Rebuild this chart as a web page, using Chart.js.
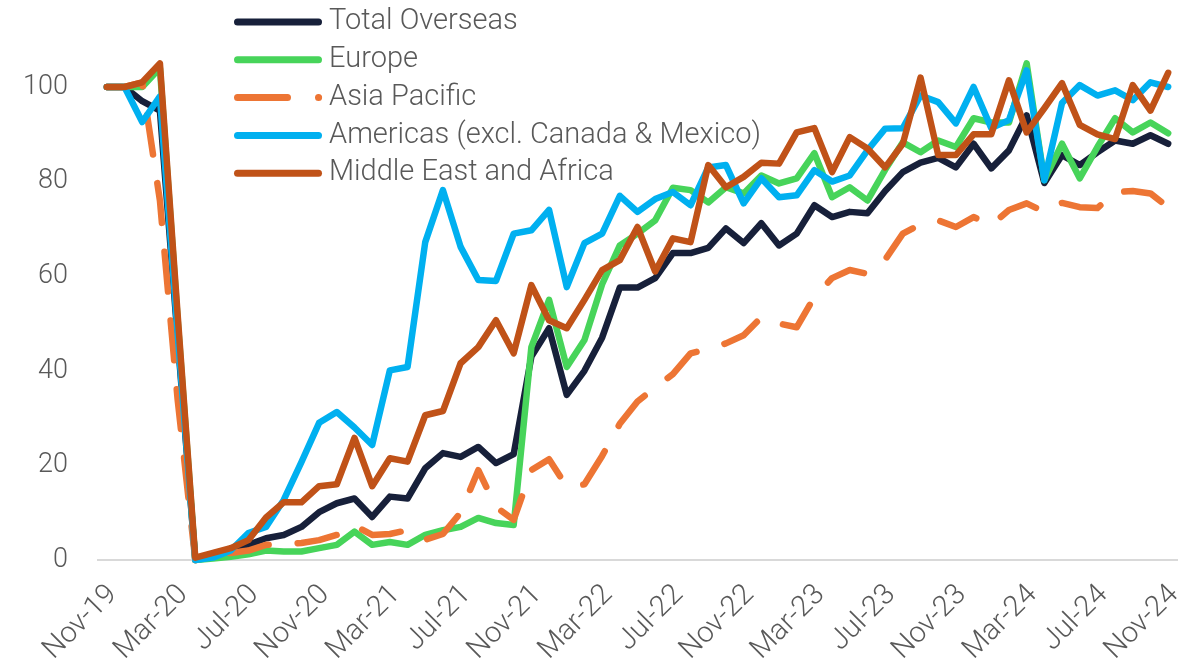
<!DOCTYPE html>
<html>
  <head>
    <title>Overseas recovery index</title>
    <script src="https://cdn.jsdelivr.net/npm/chart.js@4.4.1/dist/chart.umd.min.js"></script>
    <style>
      body { margin: 0; background: #fff; }
    </style>
  </head>
  <body>
    <canvas id="myChart" width="1196" height="664"></canvas>
    <script>
      // Months, Nov-19 .. Nov-24
      var months = [
        "Nov-19", "Dec-19", "Jan-20", "Feb-20", "Mar-20", "Apr-20", "May-20", "Jun-20", "Jul-20", "Aug-20",
        "Sep-20", "Oct-20", "Nov-20", "Dec-20", "Jan-21", "Feb-21", "Mar-21", "Apr-21", "May-21", "Jun-21",
        "Jul-21", "Aug-21", "Sep-21", "Oct-21", "Nov-21", "Dec-21", "Jan-22", "Feb-22", "Mar-22", "Apr-22",
        "May-22", "Jun-22", "Jul-22", "Aug-22", "Sep-22", "Oct-22", "Nov-22", "Dec-22", "Jan-23", "Feb-23",
        "Mar-23", "Apr-23", "May-23", "Jun-23", "Jul-23", "Aug-23", "Sep-23", "Oct-23", "Nov-23", "Dec-23",
        "Jan-24", "Feb-24", "Mar-24", "Apr-24", "May-24", "Jun-24", "Jul-24", "Aug-24", "Sep-24", "Oct-24",
        "Nov-24"
      ];

      var totalOverseas = [
        100, 100, 97, 95, 47, 0, 0.7, 1.7, 3.2, 4.6,
        5.3, 7, 10.1, 12, 13, 9.1, 13.4, 13, 19.4, 22.6,
        21.8, 23.9, 20.5, 22.4, 43, 49, 34.9, 40, 47, 57.6,
        57.6, 59.6, 64.9, 64.9, 66, 70.1, 67, 71.2, 66.5, 69,
        75, 72.5, 73.6, 73.3, 78, 82, 84, 85, 83, 88,
        82.8, 86.6, 94, 79.7, 85.6, 83.5, 86.2, 88.7, 88, 89.8,
        88
      ];
      var europe = [
        100, 100, 100, 104, 51, 0, 0.3, 0.7, 1.2, 2,
        1.8, 1.8, 2.5, 3.2, 6, 3.2, 3.8, 3.2, 5.3, 6.3,
        7, 8.9, 7.8, 7.4, 45, 55, 40.8, 46.5, 58.3, 66.5,
        69, 71.8, 78.7, 78.2, 75.6, 78.8, 77.5, 81.3, 79.6, 80.7,
        86, 76.7, 78.8, 76, 82.5, 88.3, 86.2, 88.7, 87.3, 93.4,
        92.5, 92.5, 105, 80.3, 88, 80.7, 87.3, 93.4, 90.4, 92.5,
        90.2
      ];
      var asiaPacific = [
        100, 100, 101, 76, 34, 0, 1, 1.5, 2, 3.2,
        3.4, 3.6, 4.2, 5.3, 7.3, 5.3, 5.5, 6.3, 4.3, 5.5,
        10, 19, 11.2, 8.5, 19, 21.3, 15.5, 16, 22, 28.8,
        33.5, 36.5, 39.3, 43.7, 44.6, 45.8, 47.5, 51.3, 50, 49.2,
        55.6, 59.6, 61.3, 60.5, 63.5, 69, 71, 71.8, 70.4, 72.5,
        70.8, 74, 75.4, 73.6, 75.5, 74.6, 74.4, 77.8, 78, 77.5,
        74.6
      ];
      var americas = [
        100, 100, 92.6, 98, 48, 0, 0.5, 2, 5.7, 7,
        12.7, 20.7, 29, 31.3, 28, 24.3, 40.1, 40.8, 67.2, 78.2,
        66.2, 59.2, 59, 69, 69.7, 74, 57.7, 67, 69, 77,
        73.6, 76.3, 77.8, 75, 83, 83.5, 75.4, 80.7, 76.7, 77.1,
        82.4, 80, 81.3, 86.6, 91.2, 91.3, 98.2, 96.8, 92.3, 100,
        91.3, 93, 103.5, 80.3, 96.6, 100.4, 98.2, 99.3, 97.2, 101,
        100
      ];
      var middleEastAfrica = [
        100, 100, 101, 105, 52, 0.5, 1.5, 2.5, 4.2, 9,
        12.2, 12.2, 15.6, 16, 25.8, 15.6, 21.5, 20.8, 30.6, 31.5,
        41.6, 45, 50.7, 43.7, 58.1, 50.7, 49, 55, 61.3, 63.4,
        70.4, 61, 68, 67.2, 83.5, 78.8, 81, 84, 83.8, 90.4,
        91.3, 82, 89.4, 87, 83, 88, 102, 85.6, 85.6, 90,
        90, 101.4, 90.4, 95.5, 100.8, 92, 90, 89, 100.4, 95,
        103
      ];

      var yTicks = [0, 20, 40, 60, 80, 100];

      var grey = "#595959";
      var fontFamily = "Roboto, 'Noto Sans', sans-serif";

      function line(label, data, color, order, dash) {
        return {
          label: label,
          data: data,
          borderColor: color,
          backgroundColor: color,
          borderWidth: 6.5,
          borderCapStyle: "round",
          borderJoinStyle: "round",
          borderDash: dash || [],
          pointRadius: 0,
          tension: 0,
          fill: false,
          clip: false,
          order: order,
        };
      }

      // legend drawn over the plot, top left, like the original
      var legendPlugin = {
        id: "overlayLegend",
        afterDraw: function (chart) {
          var ctx = chart.ctx;
          var x0 = 237.5, x1 = 318.5, textX = 329;
          var y0 = 22, gap = 37.8;
          ctx.save();
          chart.data.datasets.forEach(function (ds, i) {
            var y = y0 + i * gap;
            ctx.strokeStyle = ds.borderColor;
            ctx.lineWidth = 7;
            ctx.lineCap = "round";
            ctx.beginPath();
            if (ds.borderDash.length) {
              ctx.moveTo(x0, y);
              ctx.lineTo(287.5, y);
              ctx.moveTo(x1, y);
              ctx.lineTo(x1 + 0.1, y);
            } else {
              ctx.moveTo(x0, y);
              ctx.lineTo(x1, y);
            }
            ctx.stroke();
            ctx.fillStyle = grey;
            ctx.font = "300 29px " + fontFamily;
            ctx.textBaseline = "middle";
            ctx.textAlign = "left";
            ctx.fillText(ds.label, textX, y);
          });
          ctx.restore();
        },
      };

      var ctx = document.getElementById("myChart").getContext("2d");

      var chart = new Chart(ctx, {
        type: "line",
        data: {
          labels: months,
          datasets: [
            line("Total Overseas", totalOverseas, "#17203A", 5),
            line("Europe", europe, "#47D45A", 4),
            line("Asia Pacific", asiaPacific, "#ED7534", 3, [40, 29]),
            line("Americas (excl. Canada & Mexico)", americas, "#00B0F0", 2),
            line("Middle East and Africa", middleEastAfrica, "#C05218", 1),
          ],
        },
        options: {
          responsive: false,
          animation: false,
          devicePixelRatio: 1,
          layout: { padding: { top: 87, right: 19, left: 0, bottom: 0 } },
          plugins: {
            legend: { display: false },
            tooltip: { enabled: false },
          },
          scales: {
            x: {
              offset: true,
              grid: { display: false, drawTicks: false },
              border: { display: true, color: "#D9D9D9", width: 2 },
              ticks: {
                autoSkip: false,
                maxRotation: 45,
                minRotation: 45,
                padding: 18,
                labelOffset: 6,
                color: grey,
                font: { family: fontFamily, size: 29, weight: "300" },
                callback: function (val, idx) {
                  return idx % 4 === 0 ? months[idx] : "";
                },
              },
              afterFit: function (scale) {
                scale.height = 104;
                scale.paddingLeft = 0;
                scale.paddingRight = 0;
              },
            },
            y: {
              min: yTicks[0],
              max: yTicks[yTicks.length - 1],
              grid: { display: false, drawTicks: false },
              border: { display: false },
              afterBuildTicks: function (scale) {
                scale.ticks = yTicks.map(function (v) { return { value: v }; });
              },
              ticks: {
                padding: 30,
                color: grey,
                font: { family: fontFamily, size: 27, weight: "300" },
              },
              afterFit: function (scale) {
                scale.width = 98;
                scale.paddingTop = 0;
                scale.paddingBottom = 0;
              },
            },
          },
        },
        plugins: [legendPlugin],
      });
    </script>
  </body>
</html>
